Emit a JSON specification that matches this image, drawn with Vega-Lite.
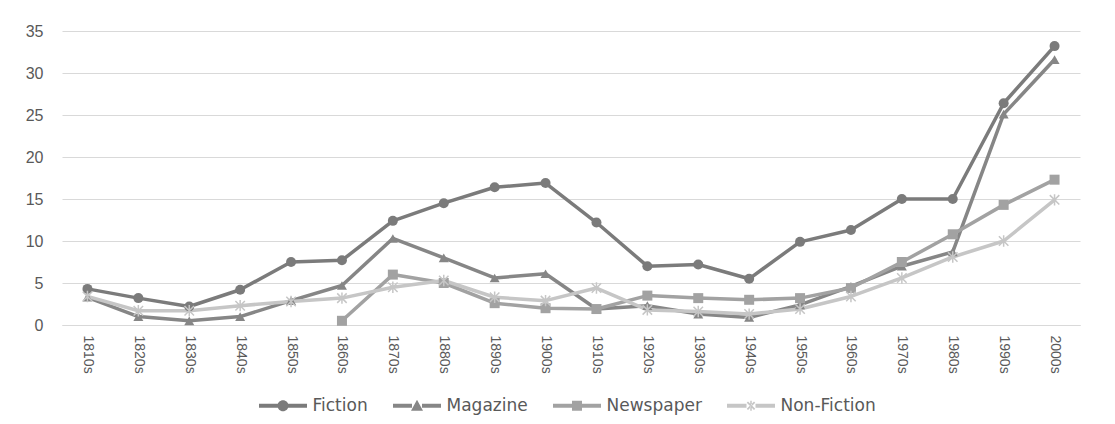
{
  "$schema": "https://vega.github.io/schema/vega-lite/v6.json",
  "autosize": {"type": "none"},
  "width": 1018,
  "height": 294,
  "padding": {"left": 62, "top": 31, "right": 35, "bottom": 99},
  "background": "white",
  "config": {
    "font": "Liberation Sans",
    "view": {"stroke": null}
  },
  "data": {
    "values": [
      {"decade": "1810s", "type": "Fiction", "value": 4.3},
      {"decade": "1820s", "type": "Fiction", "value": 3.2},
      {"decade": "1830s", "type": "Fiction", "value": 2.2},
      {"decade": "1840s", "type": "Fiction", "value": 4.2},
      {"decade": "1850s", "type": "Fiction", "value": 7.5},
      {"decade": "1860s", "type": "Fiction", "value": 7.7},
      {"decade": "1870s", "type": "Fiction", "value": 12.4},
      {"decade": "1880s", "type": "Fiction", "value": 14.5},
      {"decade": "1890s", "type": "Fiction", "value": 16.4},
      {"decade": "1900s", "type": "Fiction", "value": 16.9},
      {"decade": "1910s", "type": "Fiction", "value": 12.2},
      {"decade": "1920s", "type": "Fiction", "value": 7.0},
      {"decade": "1930s", "type": "Fiction", "value": 7.2},
      {"decade": "1940s", "type": "Fiction", "value": 5.5},
      {"decade": "1950s", "type": "Fiction", "value": 9.9},
      {"decade": "1960s", "type": "Fiction", "value": 11.3},
      {"decade": "1970s", "type": "Fiction", "value": 15.0},
      {"decade": "1980s", "type": "Fiction", "value": 15.0},
      {"decade": "1990s", "type": "Fiction", "value": 26.4},
      {"decade": "2000s", "type": "Fiction", "value": 33.2},
      {"decade": "1810s", "type": "Magazine", "value": 3.3},
      {"decade": "1820s", "type": "Magazine", "value": 1.0},
      {"decade": "1830s", "type": "Magazine", "value": 0.5},
      {"decade": "1840s", "type": "Magazine", "value": 1.0},
      {"decade": "1850s", "type": "Magazine", "value": 2.9},
      {"decade": "1860s", "type": "Magazine", "value": 4.7},
      {"decade": "1870s", "type": "Magazine", "value": 10.3},
      {"decade": "1880s", "type": "Magazine", "value": 8.0},
      {"decade": "1890s", "type": "Magazine", "value": 5.6},
      {"decade": "1900s", "type": "Magazine", "value": 6.1},
      {"decade": "1910s", "type": "Magazine", "value": 1.9},
      {"decade": "1920s", "type": "Magazine", "value": 2.3},
      {"decade": "1930s", "type": "Magazine", "value": 1.3},
      {"decade": "1940s", "type": "Magazine", "value": 0.9},
      {"decade": "1950s", "type": "Magazine", "value": 2.4},
      {"decade": "1960s", "type": "Magazine", "value": 4.6},
      {"decade": "1970s", "type": "Magazine", "value": 7.0},
      {"decade": "1980s", "type": "Magazine", "value": 8.7},
      {"decade": "1990s", "type": "Magazine", "value": 25.1},
      {"decade": "2000s", "type": "Magazine", "value": 31.6},
      {"decade": "1860s", "type": "Newspaper", "value": 0.5},
      {"decade": "1870s", "type": "Newspaper", "value": 6.0},
      {"decade": "1880s", "type": "Newspaper", "value": 5.0},
      {"decade": "1890s", "type": "Newspaper", "value": 2.6},
      {"decade": "1900s", "type": "Newspaper", "value": 2.0},
      {"decade": "1910s", "type": "Newspaper", "value": 1.9},
      {"decade": "1920s", "type": "Newspaper", "value": 3.5},
      {"decade": "1930s", "type": "Newspaper", "value": 3.2},
      {"decade": "1940s", "type": "Newspaper", "value": 3.0},
      {"decade": "1950s", "type": "Newspaper", "value": 3.2},
      {"decade": "1960s", "type": "Newspaper", "value": 4.4},
      {"decade": "1970s", "type": "Newspaper", "value": 7.5},
      {"decade": "1980s", "type": "Newspaper", "value": 10.8},
      {"decade": "1990s", "type": "Newspaper", "value": 14.3},
      {"decade": "2000s", "type": "Newspaper", "value": 17.3},
      {"decade": "1810s", "type": "Non-Fiction", "value": 3.4},
      {"decade": "1820s", "type": "Non-Fiction", "value": 1.7},
      {"decade": "1830s", "type": "Non-Fiction", "value": 1.7},
      {"decade": "1840s", "type": "Non-Fiction", "value": 2.3},
      {"decade": "1850s", "type": "Non-Fiction", "value": 2.8},
      {"decade": "1860s", "type": "Non-Fiction", "value": 3.2},
      {"decade": "1870s", "type": "Non-Fiction", "value": 4.5},
      {"decade": "1880s", "type": "Non-Fiction", "value": 5.3},
      {"decade": "1890s", "type": "Non-Fiction", "value": 3.3},
      {"decade": "1900s", "type": "Non-Fiction", "value": 2.9},
      {"decade": "1910s", "type": "Non-Fiction", "value": 4.4},
      {"decade": "1920s", "type": "Non-Fiction", "value": 1.8},
      {"decade": "1930s", "type": "Non-Fiction", "value": 1.6},
      {"decade": "1940s", "type": "Non-Fiction", "value": 1.3},
      {"decade": "1950s", "type": "Non-Fiction", "value": 1.9},
      {"decade": "1960s", "type": "Non-Fiction", "value": 3.4},
      {"decade": "1970s", "type": "Non-Fiction", "value": 5.6},
      {"decade": "1980s", "type": "Non-Fiction", "value": 8.1},
      {"decade": "1990s", "type": "Non-Fiction", "value": 10.0},
      {"decade": "2000s", "type": "Non-Fiction", "value": 14.9}
    ]
  },
  "encoding": {
    "x": {
      "field": "decade",
      "type": "ordinal",
      "scale": {"type": "point", "padding": 0.5},
      "axis": {
        "title": null,
        "labelAngle": 90,
        "labelAlign": "left",
        "labelBaseline": "middle",
        "labelFontSize": 14,
        "labelColor": "#595959",
        "labelPadding": 10,
        "ticks": false,
        "domain": true,
        "domainColor": "#d9d9d9",
        "grid": false
      }
    },
    "y": {
      "field": "value",
      "type": "quantitative",
      "scale": {"domain": [0, 35], "nice": false},
      "axis": {
        "title": null,
        "values": [0, 5, 10, 15, 20, 25, 30, 35],
        "labelFontSize": 16,
        "labelColor": "#595959",
        "labelPadding": 19,
        "ticks": false,
        "domain": false,
        "grid": true,
        "gridColor": "#d9d9d9",
        "gridWidth": 1
      }
    },
    "color": {
      "field": "type",
      "type": "nominal",
      "scale": {
        "domain": ["Fiction", "Magazine", "Newspaper", "Non-Fiction"],
        "range": ["#7b7b7b", "#868686", "#a2a2a2", "#c6c6c6"]
      }
    }
  },
  "layer": [
    {
      "mark": {"type": "line", "strokeWidth": 3.5, "strokeCap": "round", "strokeJoin": "round"},
      "encoding": {
        "color": {
          "field": "type",
          "type": "nominal",
          "legend": {
            "title": null,
            "orient": "none",
            "direction": "horizontal",
            "legendX": 194,
            "legendY": 366,
            "labelFont": "DejaVu Sans",
            "labelFontSize": 17,
            "labelColor": "#595959",
            "symbolSize": 100,
            "symbolOffset": 18.5,
            "labelOffset": 21,
            "columnPadding": 22,
            "encode": {
              "symbols": {
                "update": {
                  "shape": {"signal": "datum.value === 'Fiction' ? 'M-4.8,-0.4H-1V0.4H-4.8Z M1,-0.4H4.8V0.4H1Z M-1.1,0A1.1,1.1,0,1,1,1.1,0A1.1,1.1,0,1,1,-1.1,0Z' : datum.value === 'Magazine' ? 'M-4.8,-0.4H-1V0.4H-4.8Z M1,-0.4H4.8V0.4H1Z M0,-1.2L1.2,1L-1.2,1Z' : datum.value === 'Newspaper' ? 'M-4.8,-0.4H-1V0.4H-4.8Z M1,-0.4H4.8V0.4H1Z M-1,-1H1V1H-1Z' : 'M-4.8,-0.4H-0.9V0.4H-4.8Z M0.9,-0.4H4.8V0.4H0.9Z M-0.85,-0.6L-0.6,-0.85L0.85,0.6L0.6,0.85Z M-0.85,0.6L-0.6,0.85L0.85,-0.6L0.6,-0.85Z M-0.15,-1H0.15V1H-0.15Z'"},
                  "fill": {"signal": "scale('color', datum.value)"},
                  "stroke": {"value": "transparent"},
                  "strokeWidth": {"value": 0},
                  "opacity": {"value": 1}
                }
              }
            }
          }
        }
      }
    },
    {
      "transform": [{"filter": "datum.type !== 'Non-Fiction'"}],
      "mark": {"type": "point", "filled": true, "opacity": 1, "size": 100},
      "encoding": {
        "color": {"field": "type", "type": "nominal", "legend": null},
        "shape": {
          "field": "type",
          "type": "nominal",
          "legend": null,
          "scale": {
            "domain": ["Fiction", "Magazine", "Newspaper"],
            "range": ["circle", "triangle-up", "square"]
          }
        }
      }
    },
    {
      "transform": [{"filter": "datum.type === 'Non-Fiction'"}],
      "mark": {
        "type": "point",
        "filled": false,
        "opacity": 1,
        "size": 90,
        "strokeWidth": 1.5,
        "shape": "M-1,-1L1,1M-1,1L1,-1M0,-1.2L0,1.2"
      },
      "encoding": {
        "color": {"field": "type", "type": "nominal", "legend": null}
      }
    }
  ]
}
